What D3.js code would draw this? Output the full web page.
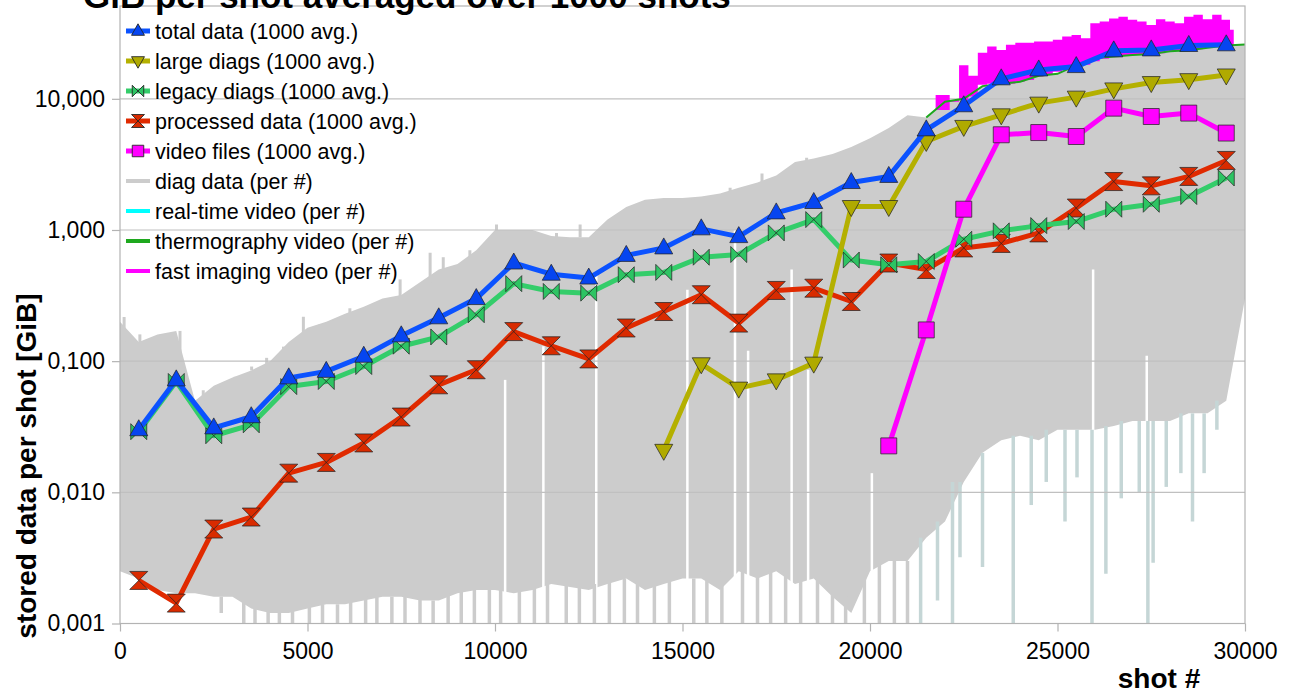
<!DOCTYPE html>
<html>
<head>
<meta charset="utf-8">
<script src="https://cdn.jsdelivr.net/npm/d3@7"></script>
<style>
  body { margin: 0; background: #fff; }
  svg { display: block; font-family: "Liberation Sans", Arial, sans-serif; }
</style>
</head>
<body>
<svg width="1291" height="693"></svg>
<script>
// 1000-shot averages (GiB per shot), one point per block
const avgShots = [500, 1500, 2500, 3500, 4500, 5500, 6500, 7500, 8500, 9500,
  10500, 11500, 12500, 13500, 14500, 15500, 16500, 17500, 18500, 19500,
  20500, 21500, 22500, 23500, 24500, 25500, 26500, 27500, 28500, 29500]
const totalData = [0.030, 0.072, 0.031, 0.0377, 0.0746, 0.0836, 0.109, 0.156, 0.214, 0.30,
  0.56, 0.46, 0.43, 0.64, 0.73, 1.02, 0.89, 1.35, 1.62, 2.30,
  2.56, 5.8, 8.85, 14.2, 16.6, 17.6, 23.2, 23.6, 25.5, 25.8]
const largeDiags = [null, null, null, null, null, null, null, null, null, null,
  null, null, null, null, 0.0209, 0.0955, 0.0623, 0.072, 0.0966, 1.51,
  1.51, 4.73, 6.16, 7.55, 9.27, 10.3, 11.9, 13.3, 14.0, 15.2]
const legacyDiags = [0.029, 0.070, 0.027, 0.0327, 0.064, 0.070, 0.091, 0.13, 0.153, 0.226,
  0.39, 0.34, 0.33, 0.456, 0.475, 0.62, 0.65, 0.95, 1.2, 0.59,
  0.543, 0.575, 0.85, 0.985, 1.08, 1.16, 1.44, 1.57, 1.80, 2.49]
const processedData = [0.00213, 0.00143, 0.00525, 0.00648, 0.0140, 0.0169, 0.0238, 0.0375, 0.066, 0.086,
  0.168, 0.131, 0.104, 0.179, 0.239, 0.321, 0.195, 0.346, 0.36, 0.285,
  0.56, 0.50, 0.73, 0.79, 0.95, 1.47, 2.34, 2.17, 2.56, 3.39]
const videoFiles = [null, null, null, null, null, null, null, null, null, null,
  null, null, null, null, null, null, null, null, null, null,
  0.0226, 0.173, 1.44, 5.32, 5.53, 5.16, 8.49, 7.33, 7.78, 5.48]

// per-shot diag data, read as an upper / lower envelope every 500 shots
const diagShots = [0, 500, 1000, 1500, 2000, 2500, 3000, 3500, 4000, 4500,
  5000, 5500, 6000, 6500, 7000, 7500, 8000, 8500, 9000, 9500,
  10000, 10500, 11000, 11500, 12000, 12500, 13000, 13500, 14000, 14500,
  15000, 15500, 16000, 16500, 17000, 17500, 18000, 18500, 19000, 19500,
  20000, 20500, 21000, 21500, 22000, 22500, 23000, 23500, 24000, 24500,
  25000, 25500, 26000, 26500, 27000, 27500, 28000, 28500, 29000, 29500, 30000]
const diagHigh = [0.2, 0.14, 0.16, 0.17, 0.05, 0.065, 0.075, 0.085, 0.1, 0.14,
  0.18, 0.2, 0.23, 0.26, 0.3, 0.32, 0.4, 0.5, 0.55, 0.7,
  1.0, 1.0, 1.0, 0.9, 0.88, 0.88, 1.2, 1.5, 1.7, 1.75,
  1.75, 1.8, 1.9, 2.1, 2.3, 2.6, 3.3, 3.5, 3.8, 4.3,
  5.0, 6.0, 7.5, 7.2, 9.5, 10, 12.5, 13, 13.5, 15,
  15.5, 18, 20.5, 21, 21.6, 22, 23, 23.5, 24.5, 25.5, 26]
const diagLow = [0.0025, 0.0022, 0.0018, 0.0017, 0.0017, 0.0016, 0.0016, 0.0013, 0.0012, 0.0012,
  0.0013, 0.0014, 0.0014, 0.0015, 0.0016, 0.0016, 0.0015, 0.0015, 0.0017, 0.0018,
  0.0018, 0.0017, 0.0018, 0.002, 0.0019, 0.0018, 0.002, 0.0022, 0.0018, 0.002,
  0.0022, 0.0022, 0.0018, 0.0025, 0.0022, 0.0025, 0.002, 0.0022, 0.0016, 0.0012,
  0.0025, 0.003, 0.003, 0.0045, 0.006, 0.012, 0.02, 0.025, 0.027, 0.025,
  0.03, 0.03, 0.03, 0.032, 0.035, 0.035, 0.035, 0.04, 0.04, 0.05, 0.3]
// single shots that stick out above the band: [shot, GiB]
const diagPeaks = [[110, 0.217], [530, 0.16], [1100, 0.157], [1600, 0.17], [2220, 0.06],
  [2670, 0.064], [3070, 0.076], [3510, 0.091], [3910, 0.106], [4360, 0.129], [4890, 0.218],
  [5330, 0.19], [5690, 0.205], [6130, 0.253], [6840, 0.26], [7470, 0.42], [8270, 0.67],
  [8620, 0.62], [9330, 0.7], [10040, 1.1], [10670, 1.0], [11640, 0.95], [12270, 1.1],
  [13150, 1.13], [13330, 1.25], [13870, 1.27], [14490, 1.7], [15290, 1.7], [16270, 2.1],
  [17120, 2.7], [17690, 2.35], [18310, 3.55]]
// single shots that fall far below the band: [shot, GiB]
const diagDips = [[2700, 0.0012], [3300, 0.001], [3600, 0.001], [3950, 0.001], [4250, 0.001],
  [4600, 0.001], [5050, 0.001], [5400, 0.001], [5800, 0.001], [6150, 0.001], [6550, 0.001],
  [6850, 0.001], [7250, 0.001], [7600, 0.001], [8000, 0.001], [8350, 0.001], [8750, 0.001],
  [9100, 0.001], [9450, 0.001], [9850, 0.001], [10150, 0.001], [10650, 0.001], [11050, 0.001],
  [11400, 0.001], [11900, 0.001], [12250, 0.001], [12650, 0.001], [13050, 0.001], [13450, 0.001],
  [13800, 0.001], [14250, 0.001], [14650, 0.001], [15300, 0.001], [15650, 0.001], [16050, 0.001],
  [16600, 0.001], [17000, 0.001], [17350, 0.001], [17750, 0.001], [18150, 0.001], [18600, 0.001],
  [19000, 0.001], [19350, 0.001], [19850, 0.001], [20250, 0.001], [20650, 0.001], [21000, 0.001],
  [21350, 0.001], [21800, 0.0015], [22200, 0.001], [22400, 0.0032], [23000, 0.0027], [23820, 0.001],
  [24300, 0.008], [24700, 0.012], [25200, 0.006], [25520, 0.013], [25920, 0.001], [26290, 0.0024],
  [26700, 0.009], [27180, 0.0099], [27410, 0.001], [27550, 0.0029], [27900, 0.011], [28290, 0.014],
  [28600, 0.006], [28910, 0.014], [29250, 0.03]]
// shots with no data, blank from the bottom up to [shot, GiB]
const diagGaps = [[10270, 0.072], [11290, 0.13], [12700, 0.47], [15130, 0.35], [16400, 1.0],
  [16750, 0.12], [17910, 0.5], [18350, 0.086], [20050, 0.014], [25950, 0.5], [27380, 0.11]]

// thermography video per shot
const thermoShots = [21500, 22000, 22500, 23000, 23500, 24000, 24500, 25000, 25500,
  26000, 26500, 27000, 27500, 28000, 28500, 29000, 29500, 30000]
const thermoVals = [7.2, 9.5, 10, 12.5, 13, 13.5, 15, 15.5, 18,
  20.5, 21, 21.6, 22, 23, 23.5, 24.5, 25.5, 26]

// fast imaging video per shot, band between low / high
const fastShots = [21750, 22000, 22250, 22500, 22750, 23000, 23250, 23500, 23750, 24000,
  24250, 24500, 24750, 25000, 25250, 25500, 25750, 26000, 26250, 26500,
  26750, 27000, 27250, 27500, 27750, 28000, 28250, 28500, 28750, 29000,
  29250, 29500, 29700]
const fastHigh = [10.7, 10.7, 9.8, 18, 15, 22.4, 25, 23.6, 25.8, 26.7,
  26.7, 27.4, 27.4, 28.2, 29.8, 30.7, 29, 37.7, 38.8, 41,
  42.3, 40, 38.8, 36.6, 40.5, 38.8, 37.7, 42.3, 43.7, 40.5,
  43.7, 40, 33.6]
const fastLow = [8.2, 8.2, 9.5, 9.8, 10.4, 12.8, 13, 13, 13, 13.5,
  13.9, 14.8, 15.2, 16.1, 16.5, 17.6, 18.2, 19.3, 20.2, 21,
  21.2, 21.6, 21.6, 22, 22.3, 22.9, 23.2, 23.5, 23.9, 24.5,
  25, 25, 25.5]

const seriesNames = ['total data (1000 avg.)', 'large diags (1000 avg.)', 'legacy diags (1000 avg.)',
  'processed data (1000 avg.)', 'video files (1000 avg.)', 'diag data (per #)',
  'real-time video (per #)', 'thermography video (per #)', 'fast imaging video (per #)']

const yTicks = [0.001, 0.01, 0.1, 1, 10]
const xTicks = [0, 5000, 10000, 15000, 20000, 25000, 30000]

// ---------------------------------------------------------------
const svg = d3.select('svg')
const pLeft = 120, pRight = 1245, pTop = 6, pBottom = 623.5

const x = d3.scaleLinear().domain([0, 30000]).range([pLeft, pRight])
const y = d3.scaleLog().domain([0.001, 51]).range([pBottom, pTop])

const deFormat = d3.formatLocale({ decimal: ',', thousands: '.', grouping: [3], currency: ['', ''] }).format('.3f')

const markers = {
  up: 'M0,-10L9,6L-9,6Z',
  down: 'M0,10L9,-6L-9,-6Z',
  bowtie: 'M-8,-8L8,8L8,-8L-8,8Z',
  hourglass: 'M-9,-9L9,-9L-9,9L9,9Z',
  square: 'M-8,-8H8V8H-8Z'
}

const styles = [
  { line: '#0b52ff', fill: '#0645f0', marker: 'up' },
  { line: '#b4b000', fill: '#b0aa00', marker: 'down' },
  { line: '#34cd6a', fill: '#2dc463', marker: 'bowtie' },
  { line: '#e02a00', fill: '#d92b00', marker: 'hourglass' },
  { line: '#ff00ff', fill: '#ff00ff', marker: 'square' },
  { line: '#cccccc' },
  { line: '#00ffff' },
  { line: '#1ea81e' },
  { line: '#ff00ff' }
]

svg.append('clipPath').attr('id', 'clip')
  .append('rect')
  .attr('x', pLeft).attr('y', pTop)
  .attr('width', pRight - pLeft).attr('height', pBottom - pTop)

const plot = svg.append('g').attr('clip-path', 'url(#clip)')

// diag data band
plot.append('path')
  .datum(diagShots)
  .attr('fill', '#cccccc')
  .attr('d', d3.area()
    .x(d => x(d))
    .y0((d, i) => y(diagLow[i]))
    .y1((d, i) => y(diagHigh[i])))

plot.append('g')
  .selectAll('line')
  .data(diagPeaks)
  .enter()
  .append('line')
  .attr('x1', d => x(d[0]))
  .attr('x2', d => x(d[0]))
  .attr('y1', d => {
    const i = d3.bisectLeft(diagShots, d[0])
    return y(Math.min(diagHigh[i], diagHigh[Math.max(i - 1, 0)]))
  })
  .attr('y2', d => y(d[1]))
  .attr('stroke', '#cccccc')
  .attr('stroke-width', 3)

plot.append('g')
  .selectAll('line')
  .data(diagGaps)
  .enter()
  .append('line')
  .attr('x1', d => x(d[0]))
  .attr('x2', d => x(d[0]))
  .attr('y1', y(0.001))
  .attr('y2', d => y(d[1]))
  .attr('stroke', '#fff')
  .attr('stroke-width', 2.5)

plot.append('g')
  .selectAll('line')
  .data(diagDips)
  .enter()
  .append('line')
  .attr('x1', d => x(d[0]))
  .attr('x2', d => x(d[0]))
  .attr('y1', d => {
    const i = d3.bisectLeft(diagShots, d[0])
    return y(Math.max(diagLow[i], diagLow[i - 1]))
  })
  .attr('y2', d => y(d[1]))
  .attr('stroke', d => d[0] > 21000 ? '#c5d6d6' : '#cccccc')
  .attr('stroke-width', 3.5)

// grid shows through the per-shot band
svg.append('g')
  .selectAll('line')
  .data(yTicks.slice(1))
  .enter()
  .append('line')
  .attr('x1', pLeft)
  .attr('x2', pRight)
  .attr('y1', d => y(d))
  .attr('y2', d => y(d))
  .attr('stroke', '#c0c0c0')
  .attr('stroke-width', 1.2)

const series = svg.append('g').attr('clip-path', 'url(#clip)')

// fast imaging band and thermography line
series.append('path')
  .datum(fastShots)
  .attr('fill', '#ff00ff')
  .attr('d', d3.area()
    .curve(d3.curveStep)
    .x(d => x(d))
    .y0((d, i) => y(fastLow[i]))
    .y1((d, i) => y(fastHigh[i])))

series.append('path')
  .datum(thermoShots)
  .attr('fill', 'none')
  .attr('stroke', styles[7].line)
  .attr('stroke-width', 2)
  .attr('d', d3.line().x(d => x(d)).y((d, i) => y(thermoVals[i])))

// averaged series, drawn bottom to top
const avgSeries = [processedData, legacyDiags, largeDiags, totalData, videoFiles]
const avgStyle = [3, 2, 1, 0, 4]

avgSeries.forEach((vals, k) => {
  const st = styles[avgStyle[k]]
  const pts = avgShots.map((s, i) => [s, vals[i]]).filter(p => p[1] != null)
  const g = series.append('g')
  g.append('path')
    .datum(pts)
    .attr('fill', 'none')
    .attr('stroke', st.line)
    .attr('stroke-width', 5)
    .attr('stroke-linejoin', 'round')
    .attr('d', d3.line().x(d => x(d[0])).y(d => y(d[1])))
  g.selectAll('path.mk')
    .data(pts)
    .enter()
    .append('path')
    .attr('class', 'mk')
    .attr('d', markers[st.marker])
    .attr('transform', d => 'translate(' + x(d[0]) + ',' + y(d[1]) + ')')
    .attr('fill', st.fill)
    .attr('stroke', '#222')
    .attr('stroke-opacity', 0.8)
    .attr('stroke-width', 0.9)
})

// frame
svg.append('rect')
  .attr('x', pLeft).attr('y', pTop)
  .attr('width', pRight - pLeft).attr('height', pBottom - pTop)
  .attr('fill', 'none')
  .attr('stroke', '#b3b3b3')
  .attr('stroke-width', 1.2)

// axes
const yAxis = svg.append('g')
  .attr('transform', 'translate(' + pLeft + ',0)')
  .call(d3.axisLeft(y).tickValues(yTicks).tickFormat(deFormat).tickSize(8).tickPadding(7))
const xAxis = svg.append('g')
  .attr('transform', 'translate(0,' + pBottom + ')')
  .call(d3.axisBottom(x).tickValues(xTicks).tickFormat(d3.format('d')).tickSize(8).tickPadding(11))

;[yAxis, xAxis].forEach(ax => {
  ax.select('.domain').remove()
  ax.selectAll('line').attr('stroke', '#b3b3b3').attr('stroke-width', 1.2)
  ax.selectAll('text')
    .attr('fill', '#000')
    .style('font-size', '23px')
    .style('font-family', '"Liberation Sans", Arial, sans-serif')
})

// titles
svg.append('text')
  .attr('x', 83)
  .attr('y', 8)
  .attr('font-size', 35)
  .attr('font-weight', 'bold')
  .text('GiB per shot averaged over 1000 shots')

svg.append('text')
  .attr('transform', 'translate(36,466) rotate(-90)')
  .attr('text-anchor', 'middle')
  .attr('font-size', 28)
  .attr('font-weight', 'bold')
  .text('stored data per shot [GiB]')

svg.append('text')
  .attr('x', 1159)
  .attr('y', 688)
  .attr('text-anchor', 'middle')
  .attr('font-size', 28)
  .attr('font-weight', 'bold')
  .text('shot #')

// legend
const legend = svg.append('g')
seriesNames.forEach((name, i) => {
  const st = styles[i]
  const ly = 31 + i * 30
  legend.append('line')
    .attr('x1', 126).attr('x2', 150)
    .attr('y1', ly).attr('y2', ly)
    .attr('stroke', st.line)
    .attr('stroke-width', i < 5 ? 5 : 4)
  if (st.marker) {
    legend.append('path')
      .attr('d', markers[st.marker])
      .attr('transform', 'translate(138,' + ly + ') scale(0.72)')
      .attr('fill', st.fill)
      .attr('stroke', '#222')
      .attr('stroke-width', 1.2)
  }
  legend.append('text')
    .attr('x', 155)
    .attr('y', ly)
    .attr('dy', '0.35em')
    .attr('font-size', 21.5)
    .text(name)
})
</script>
</body>
</html>
